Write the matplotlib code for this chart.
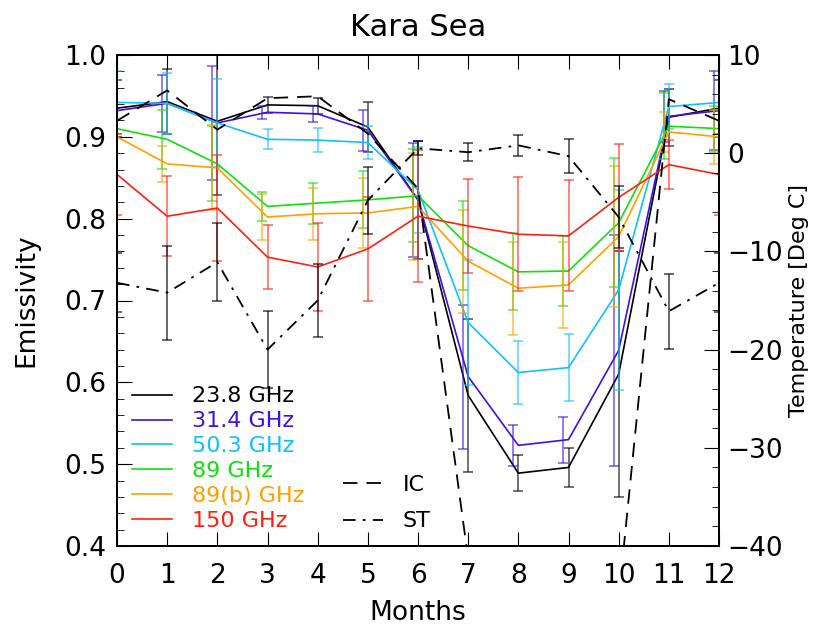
import numpy as np
import matplotlib
matplotlib.use("Agg")
import matplotlib.pyplot as plt
from matplotlib.ticker import MultipleLocator

months = np.arange(13)

# emissivity per channel (month 0 and 12 are the same December point)
e238 = [0.935, 0.943, 0.919, 0.939, 0.938, 0.912, 0.823, 0.584, 0.489, 0.496, 0.610, 0.924, 0.935]
e314 = [0.932, 0.941, 0.917, 0.930, 0.928, 0.908, 0.823, 0.607, 0.523, 0.530, 0.639, 0.925, 0.932]
e503 = [0.942, 0.941, 0.917, 0.897, 0.896, 0.893, 0.835, 0.673, 0.612, 0.618, 0.713, 0.937, 0.942]
e89 = [0.910, 0.897, 0.867, 0.815, 0.819, 0.823, 0.828, 0.767, 0.735, 0.736, 0.795, 0.913, 0.910]
e89b = [0.900, 0.867, 0.862, 0.802, 0.806, 0.807, 0.815, 0.748, 0.715, 0.719, 0.778, 0.906, 0.900]
e150 = [0.854, 0.803, 0.813, 0.753, 0.741, 0.763, 0.803, 0.791, 0.781, 0.779, 0.826, 0.866, 0.854]

# standard deviations
s238 = [0.035, 0.040, 0.090, 0.010, 0.010, 0.030, 0.072, 0.093, 0.022, 0.024, 0.150, 0.035, 0.035]
s314 = [0.048, 0.035, 0.070, 0.008, 0.010, 0.025, 0.070, 0.088, 0.025, 0.028, 0.141, 0.031, 0.048]
s503 = [0.038, 0.037, 0.054, 0.012, 0.015, 0.020, 0.052, 0.076, 0.039, 0.041, 0.122, 0.027, 0.038]
s89 = [0.028, 0.036, 0.046, 0.018, 0.025, 0.035, 0.057, 0.054, 0.047, 0.043, 0.079, 0.040, 0.028]
s89b = [0.033, 0.022, 0.052, 0.028, 0.032, 0.043, 0.065, 0.063, 0.057, 0.052, 0.086, 0.024, 0.033]
s150 = [0.050, 0.049, 0.065, 0.039, 0.054, 0.064, 0.081, 0.058, 0.070, 0.068, 0.065, 0.030, 0.050]

# temperatures (deg C): ice concentration curve and surface temperature
ic = [3.3, 6.4, 2.4, 5.6, 5.8, 2.0, -3.6, -41.3, -46.0, -47.0, -45.3, 5.5, 3.3]
st = [-13.2, -14.2, -11.1, -20.0, -15.0, -4.8, 0.5, 0.1, 0.8, -0.3, -6.5, -16.1, -13.2]
st_err = [3.0, 4.8, 4.0, 3.9, 3.7, 3.4, 0.7, 0.9, 1.1, 1.7, 3.2, 3.8, 3.0]

labels = ["23.8 GHz", "31.4 GHz", "50.3 GHz", "89 GHz", "89(b) GHz", "150 GHz"]
colors = ["#000000", "#4010e0", "#10c0ff", "#10e010", "#ffa000", "#ff2010"]
shift = [0.0, -0.1, 0.0, -0.1, -0.1, 0.0]
series = [e238, e314, e503, e89, e89b, e150]
errs = [s238, s314, s503, s89, s89b, s150]

fig = plt.figure(figsize=(8.14, 6.30), dpi=100)
ax = fig.add_axes([117/814, 84/630, 602/814, 491/630])
ax2 = ax.twinx()

for y, s, c, lab, dx in zip(series, errs, colors, labels, shift):
    ax.errorbar(months + dx, y, yerr=s, fmt="none", ecolor=c, elinewidth=1.1,
                capsize=3.5, capthick=1.1, alpha=0.7)
    ax.plot(months, y, color=c, lw=1.2, label=lab)

ax2.errorbar(months, st, yerr=st_err, fmt="none", ecolor="black", elinewidth=1.1,
             capsize=3.5, capthick=1.1, alpha=0.75)
ax2.plot(months, ic, color="black", lw=1.3, dashes=(8, 5), label="IC")
ax2.plot(months, st, color="black", lw=1.3, dashes=(7, 4, 1.5, 4), label="ST")

ax.set_xlim(0, 12)
ax.set_ylim(0.4, 1.0)
ax2.set_ylim(-40, 10)
ax.set_xticks(months)
ax.yaxis.set_major_locator(MultipleLocator(0.1))
ax.yaxis.set_minor_locator(MultipleLocator(0.02))
ax2.yaxis.set_major_locator(MultipleLocator(10))
ax2.yaxis.set_minor_locator(MultipleLocator(2))
ax.yaxis.set_major_formatter(matplotlib.ticker.FormatStrFormatter("%.1f"))

ax.tick_params(axis="x", which="both", direction="in", top=True, length=10,
               labelsize=19, pad=12)
ax.tick_params(axis="y", which="major", direction="in", length=11, labelsize=19, pad=8)
ax.tick_params(axis="y", which="minor", direction="in", length=5)
ax2.tick_params(axis="y", which="major", direction="in", length=11, labelsize=19, pad=6)
ax2.tick_params(axis="y", which="minor", direction="in", length=5)

for a in (ax, ax2):
    for sp in a.spines.values():
        sp.set_linewidth(1.3)

ax.set_xlabel("Months", fontsize=19, labelpad=8)
ax.set_ylabel("Emissivity", fontsize=19, labelpad=18)
ax2.set_ylabel("Temperature [Deg C]", fontsize=16, labelpad=4)
ax.set_title("Kara Sea", fontsize=22, pad=14)

leg1 = ax.legend(loc="upper left", bbox_to_anchor=(0.025, 0.325), frameon=False,
                 fontsize=16, labelcolor="linecolor", handlelength=1.8,
                 handletextpad=0.9, labelspacing=0.22, borderpad=0, borderaxespad=0)
leg2 = ax2.legend(loc="upper left", bbox_to_anchor=(0.375, 0.145), frameon=False,
                  fontsize=16, handlelength=1.8, handletextpad=0.9,
                  labelspacing=0.75, borderpad=0, borderaxespad=0)

fig.savefig("out.png", dpi=100)
